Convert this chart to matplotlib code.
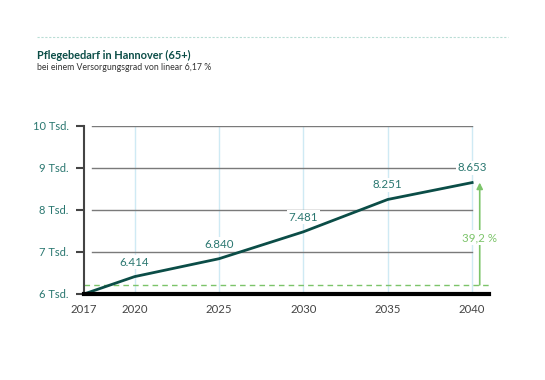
import matplotlib.pyplot as plt
from matplotlib.lines import Line2D

years = [2017, 2020, 2025, 2030, 2035, 2040]
values = [6000, 6414, 6840, 7481, 8251, 8653]
labels = ["", "6.414", "6.840", "7.481", "8.251", "8.653"]
base_value = 6216
growth_label = "39,2 %"
y_ticks = [6000, 7000, 8000, 9000, 10000]
y_ticklabels = ["6 Tsd.", "7 Tsd.", "8 Tsd.", "9 Tsd.", "10 Tsd."]

teal = "#0b4d47"
teal_text = "#2a7770"
green = "#7cc46a"
grid_gray = "#7a7a7a"
light_blue = "#cfeaf4"

plt.rcParams['font.family'] = ['Lato', 'DejaVu Sans']

fig = plt.figure(figsize=(5.45, 3.8), dpi=100)
ax = fig.add_axes([84 / 545, 1 - 294 / 380, (489 - 84) / 545, (294 - 126) / 380])

ax.set_xlim(2017, 2041)
ax.set_ylim(6000, 10000)

# vertical light blue grid
for yr in years[1:]:
    ax.plot([yr, yr], [6000, 10000], color=light_blue, lw=1, zorder=1)
# horizontal grid
for yv in y_ticks[1:]:
    ax.plot([2017.45, 2040], [yv, yv], color=grid_gray, lw=1, zorder=1)

# baseline dashed
ax.plot([2017, 2041], [base_value, base_value], color=green, lw=1,
        ls=(0, (4, 3)), zorder=2)

ax.plot(years, values, color=teal, lw=2, zorder=4, solid_joinstyle='round')

for x, v, lab in zip(years, values, labels):
    if lab:
        ax.annotate(lab, (x, v), xytext=(0, 10.5), textcoords='offset points',
                    ha='center', va='center', fontsize=8.3, color=teal_text,
                    bbox=dict(boxstyle='square,pad=0.15', fc='white', ec='none'),
                    zorder=3)

# growth arrow
ax.annotate("", xy=(2040.45, values[-1]), xytext=(2040.45, base_value),
            arrowprops=dict(arrowstyle='-|>', color=green, lw=1.2,
                            mutation_scale=9, shrinkA=0, shrinkB=0), zorder=4)
ax.text(2040.45, (values[-1] + base_value) / 2 - 90, growth_label, ha='center',
        va='center', fontsize=8.3, color=green, zorder=5,
        bbox=dict(boxstyle='square,pad=0.15', fc='white', ec='none'))

for s in ['top', 'right']:
    ax.spines[s].set_visible(False)
ax.spines['left'].set_color('#444444')
ax.spines['left'].set_linewidth(1.5)
ax.spines['bottom'].set_color('black')
ax.spines['bottom'].set_linewidth(3)
ax.spines['bottom'].set_zorder(6)

ax.set_yticks(y_ticks)
ax.set_yticklabels(y_ticklabels)
ax.tick_params(axis='y', length=6, width=1.5, color='#444444',
               labelsize=8, pad=5)
ax.set_xticks(years)
ax.set_xticklabels([str(y) for y in years])
ax.tick_params(axis='x', length=0, labelsize=8.2, labelcolor='#444444', pad=7)
for t in ax.get_yticklabels():
    t.set_color(teal_text)

# title block
fig.add_artist(Line2D([37 / 545, 508 / 545], [1 - 37 / 380, 1 - 37 / 380],
                      color='#b9ddd5', lw=0.8, ls=(0, (2, 1.5))))
fig.text(37 / 545, 1 - 55 / 380, "Pflegebedarf in Hannover (65+)", fontsize=7.9,
         fontweight='bold', color=teal, va='center')
fig.text(37 / 545, 1 - 68 / 380, "bei einem Versorgungsgrad von linear 6,17 %",
         fontsize=6.3, color='#333333', va='center')

fig.savefig("out.png", dpi=100)
